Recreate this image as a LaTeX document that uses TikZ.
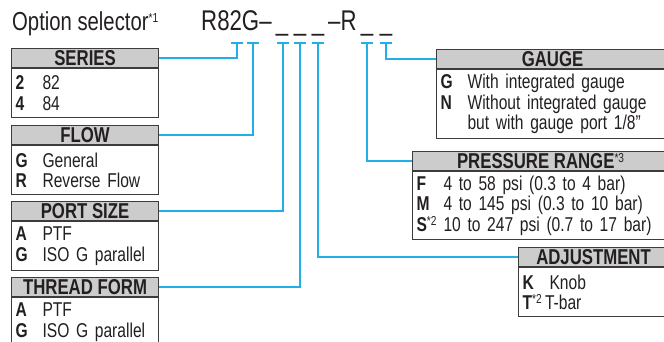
\documentclass[tikz,border=0pt]{standalone}
\usepackage{fontspec}
\setmainfont{Liberation Sans}[FakeStretch=0.78]
\usetikzlibrary{positioning}

\definecolor{leadblue}{RGB}{35,175,230}
\definecolor{hdrgray}{RGB}{204,204,204}
\definecolor{boxline}{RGB}{60,60,60}
\definecolor{inktext}{RGB}{35,31,32}

\newlength{\optkey}
\setlength{\optkey}{27pt}
\newcommand{\opt}[2]{\makebox[\optkey][l]{\bfseries #1}#2}
\newcommand{\fnmark}[1]{\raisebox{0.3em}{\fontsize{13}{13}\mdseries\selectfont *#1}}

\tikzset{
  hdr/.style={draw=boxline, fill=hdrgray, line width=1.1pt, anchor=north west,
    minimum height=19pt, inner sep=0pt, text height=15pt, text depth=0pt,
    font=\fontsize{21.5}{21.5}\bfseries\selectfont},
  optbody/.style={draw=boxline, line width=1.1pt, anchor=north west,
    inner xsep=4pt, inner ysep=0pt, align=left,
    font=\fontsize{20}{20.5}\selectfont},
  codetext/.style={inner sep=0pt, font=\fontsize{28.5}{28.5}\selectfont},
  lead/.style={draw=leadblue, line width=1.3pt},
}

\begin{document}
\begin{tikzpicture}[x=1pt, y=-1pt, every node/.style={text=inktext}]
  \useasboundingbox (0,0) rectangle (664,341);

  \node[anchor=base west, inner sep=0pt, font=\fontsize{26}{26}\selectfont] (selector) at (12,30) {Option selector\fnmark{1}};
  \node[codetext, anchor=base west] (code) at (201,30) {R82G–};
  \foreach \x/\n in {282/u1, 300/u2, 318/u3, 367/u4, 386/u5}
    \node[codetext, anchor=base] (\n) at (\x,30) {\_};
  \node[codetext, anchor=base west] (coder) at (328,30) {–R};

  \coordinate (t-series) at (237,43);
  \coordinate (t-flow) at (253,43);
  \coordinate (t-port) at (283,43);
  \coordinate (t-thread) at (300,43);
  \coordinate (t-adjust) at (318,43);
  \coordinate (t-press) at (367,43);
  \coordinate (t-gauge) at (386,43);
  \foreach \t in {t-series, t-flow, t-port, t-thread, t-adjust, t-press, t-gauge}
    \draw[lead] ([xshift=-6pt]\t) -- ([xshift=6pt]\t);

  \node[hdr, minimum width=147pt] (series) at (11,48) {SERIES};
  \node[optbody, text width=139pt, minimum height=49pt] (series-body) at (series.south west) {\opt{2}{82}\\\opt{4}{84}};

  \node[hdr, minimum width=147pt] (flow) at (11,125) {FLOW};
  \node[optbody, text width=139pt, minimum height=49pt] (flow-body) at (flow.south west) {\opt{G}{General}\\\opt{R}{Reverse Flow}};

  \node[hdr, minimum width=147pt] (port) at (11,201) {PORT SIZE};
  \node[optbody, text width=139pt, minimum height=49pt] (port-body) at (port.south west) {\opt{A}{PTF}\\\opt{G}{ISO G parallel}};

  \node[hdr, minimum width=147pt] (thread) at (11,277) {THREAD FORM};
  \node[optbody, text width=139pt, minimum height=49pt] (thread-body) at (thread.south west) {\opt{A}{PTF}\\\opt{G}{ISO G parallel}};

  \node[hdr, minimum width=232pt] (gauge) at (436,49) {GAUGE};
  \node[optbody, text width=224pt, minimum height=69pt] (gauge-body) at (gauge.south west) {\opt{G}{With integrated gauge}\\\opt{N}{Without integrated gauge}\\\opt{}{but with gauge port 1/8''}};

  \node[hdr, minimum width=256pt] (press) at (412,151) {PRESSURE RANGE\fnmark{3}};
  \node[optbody, text width=248pt, minimum height=68pt] (press-body) at (press.south west) {\opt{F}{4 to 58 psi (0.3 to 4 bar)}\\\opt{M}{4 to 145 psi (0.3 to 10 bar)}\\\opt{S\fnmark{2}}{10 to 247 psi (0.7 to 17 bar)}};

  \node[hdr, minimum width=150pt] (adjust) at (518,247) {ADJUSTMENT};
  \node[optbody, text width=142pt, minimum height=49pt] (adjust-body) at (adjust.south west) {\opt{K}{Knob}\\{\bfseries T}\fnmark{2}\,T-bar};

  \draw[lead] (t-series) |- (series.east);
  \draw[lead] (t-flow) |- (flow.east);
  \draw[lead] (t-port) |- (port.east);
  \draw[lead] (t-thread) |- (thread.east);
  \draw[lead] (t-adjust) |- (adjust.west);
  \draw[lead] (t-press) |- (press.west);
  \draw[lead] (t-gauge) |- (gauge.west);
\end{tikzpicture}
\end{document}
